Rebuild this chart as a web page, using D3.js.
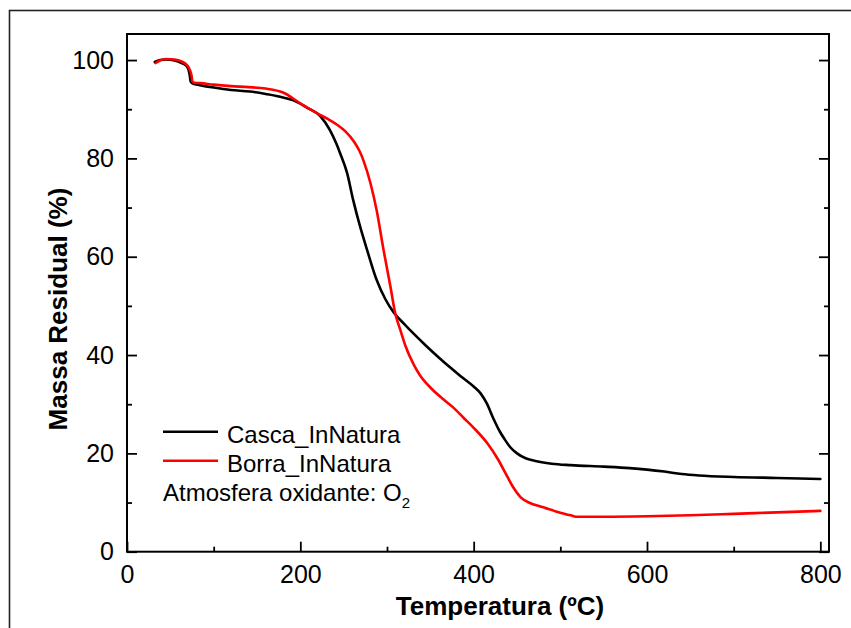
<!DOCTYPE html>
<html>
<head>
<meta charset="utf-8">
<script src="https://cdn.jsdelivr.net/npm/d3@7"></script>
<style>
html,body{margin:0;padding:0;background:#fff;}
svg{display:block;}
text{font-family:"Liberation Sans",Arial,sans-serif;fill:#000;}
</style>
</head>
<body>
<svg id="chart" width="851" height="628"></svg>
<script>
// ---- data ----
const cascaT = [32,38,45,55,63,68,71,72.5,73.5,76,84,100,120,142,160,180,192,207,223,234,242,246,254,261,269,277,288,298,308,320,331,345,361,372,385,400,408,415,423,430,436,442,450,460,470,490,512,550,580,600,620,640,660,700,750,800];
const cascaM = [99.6,100.0,100.1,99.9,99.4,98.9,98.0,96.8,95.6,95.2,94.9,94.4,93.9,93.6,93.1,92.4,91.8,90.4,88.6,85.8,82.8,81.0,77.0,71.5,66.1,61.4,55.3,51.4,48.6,46.3,44.3,41.9,39.3,37.6,35.7,33.6,32.2,30.2,27.0,24.5,22.8,21.3,20.0,19.0,18.5,17.9,17.6,17.3,17.0,16.7,16.3,15.8,15.5,15.2,15.0,14.8];

const borraT = [33,38,45,55,63,69,72.5,74.5,75.5,78,85,100,120,140,160,180,200,210,220,232,242,252,262,268,273,281,288,296,304,309.5,315,321,331,338,350,365,376,388,400,416,428,439,446,454,465,477,495,512,520,550,600,650,700,750,800];
const borraM = [99.4,99.9,100.2,100.1,99.7,99.0,98.0,96.8,95.6,95.4,95.3,95.0,94.7,94.5,94.2,93.4,91.2,90.1,89.1,88.0,86.9,85.5,83.4,81.6,79.5,74.9,69.5,61.4,53.9,48.5,45.3,42.0,38.0,35.9,33.4,31.0,29.4,27.3,25.2,22.0,18.8,15.2,13.0,11.1,9.9,9.2,8.2,7.4,7.1,7.1,7.2,7.4,7.7,8.0,8.3];

const xMajorTicks = [0,200,400,600,800];
const xMinorTicks = [100,300,500,700];
const yMajorTicks = [0,20,40,60,80,100];
const yMinorTicks = [10,30,50,70,90];

const seriesNames = ["Casca_InNatura","Borra_InNatura"];
const seriesColors = ["#000000","#ff0000"];

// ---- layout ----
const svg = d3.select("#chart");
const L = 127, R = 829, T = 34, B = 551.7;

const x = d3.scaleLinear().domain([0,810]).range([L,R]);
const y = d3.scaleLinear().domain([0,105.3]).range([B,T]);

// outer frame
svg.append("rect").attr("x",9.5).attr("y",10.5).attr("width",900).attr("height",700)
  .attr("fill","none").attr("stroke","#222").attr("stroke-width",1.6);

// curves
const line = d3.line().x(d=>x(d[0])).y(d=>y(d[1])).curve(d3.curveMonotoneX);
const data = [d3.zip(cascaT,cascaM), d3.zip(borraT,borraM)];
data.forEach((d,i)=>{
  svg.append("path").datum(d).attr("d",line).attr("fill","none")
    .attr("stroke",seriesColors[i]).attr("stroke-width",2.6)
    .attr("stroke-linejoin","round").attr("stroke-linecap","round");
});

// axes
const fs = 25;
const xAxis = svg.append("g").attr("transform",`translate(0,${B})`)
  .call(d3.axisBottom(x).tickValues(xMajorTicks).tickSize(-10).tickPadding(14).tickFormat(d3.format("d")));
const yAxis = svg.append("g").attr("transform",`translate(${L},0)`)
  .call(d3.axisLeft(y).tickValues(yMajorTicks).tickSize(-10).tickPadding(13).tickFormat(d3.format("d")));
const yAxisR = svg.append("g").attr("transform",`translate(${R},0)`)
  .call(d3.axisRight(y).tickValues(yMajorTicks).tickSize(-10).tickFormat(""));
const xMinor = svg.append("g").attr("transform",`translate(0,${B})`)
  .call(d3.axisBottom(x).tickValues(xMinorTicks).tickSize(-5).tickFormat(""));
const yMinor = svg.append("g").attr("transform",`translate(${L},0)`)
  .call(d3.axisLeft(y).tickValues(yMinorTicks).tickSize(-5).tickFormat(""));
const yMinorR = svg.append("g").attr("transform",`translate(${R},0)`)
  .call(d3.axisRight(y).tickValues(yMinorTicks).tickSize(-5).tickFormat(""));

[xAxis,yAxis,yAxisR,xMinor,yMinor,yMinorR].forEach(g=>{
  g.select(".domain").remove();
  g.selectAll(".tick line").attr("stroke","#000").attr("stroke-width",1.8);
  g.selectAll("text").attr("font-size",fs).attr("font-family","'Liberation Sans',Arial,sans-serif").attr("fill","#000");
});

// plot box
svg.append("rect").attr("x",L).attr("y",T).attr("width",R-L).attr("height",B-T)
  .attr("fill","none").attr("stroke","#000").attr("stroke-width",2);

// axis titles
svg.append("text").attr("x",500).attr("y",615).attr("text-anchor","middle")
  .attr("font-size",26).attr("font-weight","bold").text("Temperatura (ºC)");
svg.append("text").attr("transform","translate(67,309) rotate(-90)").attr("text-anchor","middle")
  .attr("font-size",26).attr("font-weight","bold").text("Massa Residual (%)");

// legend
const legY = [431.7, 460.7];
seriesNames.forEach((n,i)=>{
  svg.append("line").attr("x1",163).attr("x2",218).attr("y1",legY[i]).attr("y2",legY[i])
    .attr("stroke",seriesColors[i]).attr("stroke-width",2.4);
  svg.append("text").attr("x",227).attr("y",legY[i]+11.5).attr("font-size",24).text(n);
});
const note = svg.append("text").attr("x",163).attr("y",501).attr("font-size",24);
note.append("tspan").text("Atmosfera oxidante: O");
note.append("tspan").attr("font-size",15).attr("dy",7).text("2");
</script>
</body>
</html>
